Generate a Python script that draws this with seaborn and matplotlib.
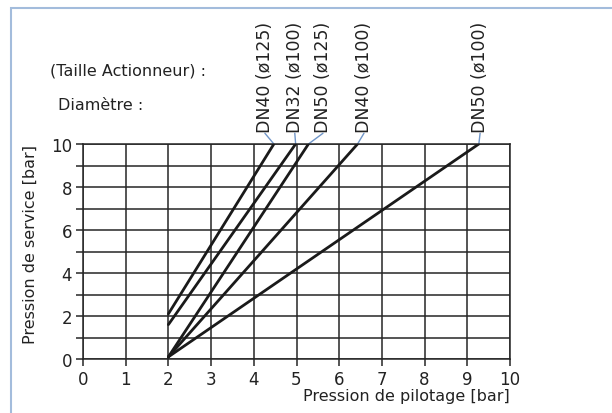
import pandas as pd
import matplotlib
matplotlib.use("Agg")
import matplotlib.pyplot as plt
from matplotlib.patches import Rectangle
import seaborn as sns

# Series: (pilot pressure, service pressure) end points
series = ["DN40 (ø125)", "DN32 (ø100)", "DN50 (ø125)", "DN40 (ø100)", "DN50 (ø100)"]
x_start = [2.0, 2.0, 2.0, 2.0, 2.0]
y_start = [2.1, 1.6, 0.1, 0.1, 0.1]
x_end = [4.47, 4.98, 5.28, 6.43, 9.27]
y_end = [10, 10, 10, 10, 10]

# where the rotated labels sit (data x)
label_x = [4.26, 4.96, 5.62, 6.58, 9.30]

x_ticks = list(range(0, 11))
y_ticks = list(range(0, 11))

rows = []
for s, xs, ys, xe, ye in zip(series, x_start, y_start, x_end, y_end):
    rows.append({"serie": s, "pilotage": xs, "service": ys})
    rows.append({"serie": s, "pilotage": xe, "service": ye})
df = pd.DataFrame(rows)

sns.set_style("ticks")
plt.rcParams["font.family"] = ["DejaVu Sans"]

fig = plt.figure(figsize=(6.12, 4.14), dpi=100)
ax = fig.add_axes([83 / 612, 1 - 360 / 414, 427 / 612, 215 / 414])

grid_col = "#262626"
sns.lineplot(data=df, x="pilotage", y="service", hue="serie",
             palette=["#1a1a1a"] * len(series), linewidth=2.0,
             legend=False, ax=ax, zorder=3)

ax.set_xlim(0, 10)
ax.set_ylim(0, 10)
ax.set_xticks(x_ticks)
ax.set_yticks(y_ticks)
ax.set_xticklabels([str(t) for t in x_ticks])
ax.set_yticklabels([str(t) if t % 2 == 0 else "" for t in y_ticks])
ax.grid(True, color=grid_col, linewidth=1.1)
for sp in ax.spines.values():
    sp.set_visible(True)
    sp.set_color(grid_col)
    sp.set_linewidth(1.1)
ax.tick_params(length=5, width=1.1, color=grid_col, labelsize=12,
               labelcolor="#222222", pad=3)

ax.set_xlabel("Pression de pilotage [bar]", fontsize=11.5, color="#222222",
              loc="right", labelpad=0)
ax.set_ylabel("Pression de service [bar]", fontsize=11.5, color="#222222",
              loc="top", labelpad=9)

# rotated series labels with blue leader lines
for s, lx, xe in zip(series, label_x, x_end):
    ax.plot([lx, xe], [10.5, 10], color="#6f95c8", linewidth=1.0, clip_on=False)
    ax.text(lx, 10.58, s, rotation=90, ha="center", va="bottom",
            fontsize=12.5, color="#222222", clip_on=False)

fig.text(50 / 612, 1 - 71 / 414, "(Taille Actionneur) :", fontsize=11.5,
         color="#222222", va="center", ha="left")
fig.text(58 / 612, 1 - 105 / 414, "Diamètre :", fontsize=11.5,
         color="#222222", va="center", ha="left")

# light blue frame around the figure
fig.add_artist(Rectangle((11 / 612, -0.1), 1.2, 0.1 + (414 - 9) / 414,
                         transform=fig.transFigure, fill=False,
                         edgecolor="#a3bcdc", linewidth=1.5))

fig.savefig("out.png", dpi=100)
